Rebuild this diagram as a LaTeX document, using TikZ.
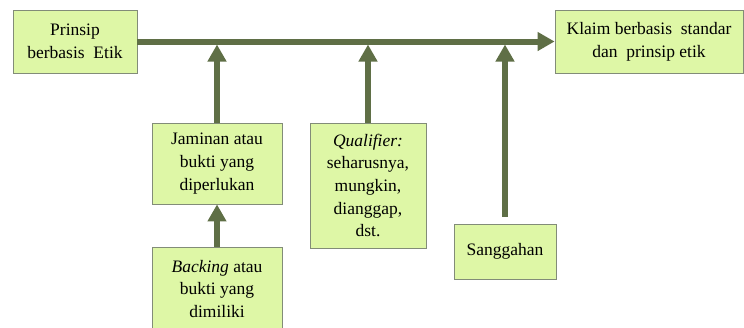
\documentclass[tikz,border=0pt]{standalone}
\usepackage{fontspec}
\setmainfont{Liberation Serif}
\usetikzlibrary{arrows.meta}
\definecolor{lineg}{RGB}{95,111,70}
\definecolor{boxg}{RGB}{222,247,166}
\definecolor{boxb}{RGB}{130,140,120}
\begin{document}
\begin{tikzpicture}[x=1pt,y=-1pt,
  box/.style={draw=boxb, line width=0.8pt, fill=boxg, inner sep=0pt, align=center,
    font=\fontsize{17.5}{22.7}\selectfont},
  conn/.style={draw=lineg, line width=6pt, -{Triangle[width=18pt,length=17pt]}}]
\clip (0,0) rectangle (744,327);
\node[box, minimum width=124pt, minimum height=63pt] (pr) at (75,41.5) {Prinsip\\berbasis\ \ Etik};
\node[box, minimum width=188pt, minimum height=63pt] (kl) at (649,41.5) {Klaim berbasis\ \ standar\\dan\ \ prinsip etik};
\node[box, minimum width=130pt, minimum height=81pt] (jm) at (217,163.5) {Jaminan atau\\bukti yang\\diperlukan};
\node[box, minimum width=116pt, minimum height=125pt] (ql) at (368,185.5) {\textit{Qualifier:}\\seharusnya,\\mungkin,\\dianggap,\\dst.};
\node[box, minimum width=130pt, minimum height=84pt] (bk) at (217,289) {\textit{Backing} atau\\bukti yang\\dimiliki};
\node[box, minimum width=102pt, minimum height=55pt] (sg) at (505,251.5) {Sanggahan};
\coordinate (st) at ([yshift=7pt]sg.north);
\draw[conn] (pr.east) -- (kl.west);
\draw[conn] (jm.north) -- (jm.north |- 0,44.5);
\draw[conn] (ql.north) -- (ql.north |- 0,44.5);
\draw[conn] (st) -- (st |- 0,44.5);
\draw[conn] (bk.north) -- (jm.south);
\end{tikzpicture}
\end{document}
